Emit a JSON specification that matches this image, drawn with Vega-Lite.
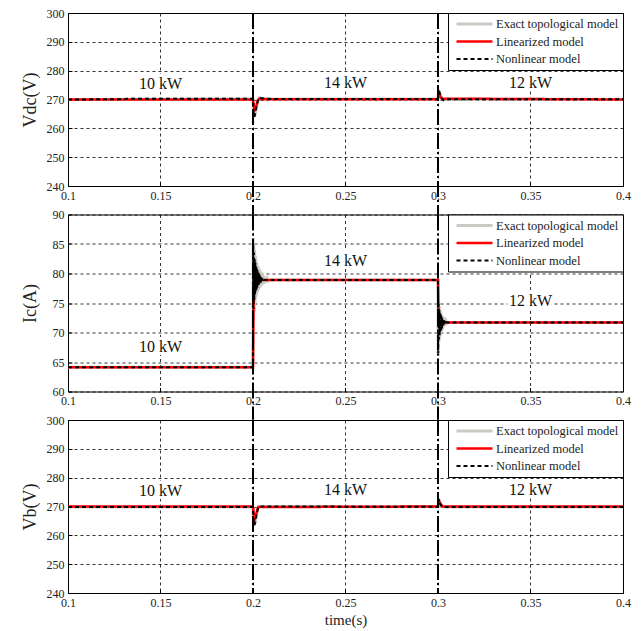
{
  "$schema": "https://vega.github.io/schema/vega-lite/v6.json",
  "autosize": {"type": "pad"},
  "padding": {"left": 20, "top": 6, "right": 12, "bottom": 5},
  "background": "white",
  "config": {
    "font": "Liberation Serif",
    "view": {"stroke": "black", "strokeWidth": 1},
    "axis": {"domain": false, "grid": true, "gridColor": "black", "gridDash": [3, 3], "gridWidth": 0.8, "gridOpacity": 1, "ticks": true, "tickSize": -4, "tickColor": "black", "tickWidth": 1, "tickCount": 20, "labelFont": "Liberation Serif", "labelFontSize": 12, "labelColor": "#222", "labelFlush": false, "labelOverlap": false, "labelPadding": 8, "titleFont": "Liberation Serif", "titleFontWeight": "normal", "titleColor": "#222"},
    "legend": {"orient": "top-right", "offset": 0, "strokeColor": "black", "fillColor": "white", "padding": 4, "symbolType": "stroke", "symbolSize": 1296, "clipHeight": 14, "rowPadding": 3.5, "labelFont": "Liberation Serif", "labelFontSize": 12.5, "labelColor": "#222", "symbolOffset": 3, "labelOffset": 2, "labelLimit": 0}
  },
  "datasets": {
    "vdc": [
      {"t": 0.1, "v": 270, "s": "Exact topological model"}, {"t": 0.2, "v": 270.2, "s": "Exact topological model"}, {"t": 0.2001, "v": 268, "s": "Exact topological model"}, {"t": 0.2004, "v": 265, "s": "Exact topological model"}, {"t": 0.2008, "v": 264, "s": "Exact topological model"}, {"t": 0.2013, "v": 265.3, "s": "Exact topological model"}, {"t": 0.202, "v": 268, "s": "Exact topological model"}, {"t": 0.2028, "v": 270, "s": "Exact topological model"}, {"t": 0.2035, "v": 270.6, "s": "Exact topological model"}, {"t": 0.205, "v": 270.4, "s": "Exact topological model"}, {"t": 0.21, "v": 270.2, "s": "Exact topological model"}, {"t": 0.3, "v": 270.2, "s": "Exact topological model"}, {"t": 0.3001, "v": 272, "s": "Exact topological model"}, {"t": 0.3003, "v": 273.5, "s": "Exact topological model"}, {"t": 0.3008, "v": 272.5, "s": "Exact topological model"}, {"t": 0.3015, "v": 271, "s": "Exact topological model"}, {"t": 0.3025, "v": 270, "s": "Exact topological model"}, {"t": 0.303, "v": 269.8, "s": "Exact topological model"}, {"t": 0.305, "v": 270.1, "s": "Exact topological model"}, {"t": 0.4, "v": 270.1, "s": "Exact topological model"},
      {"t": 0.1, "v": 270, "s": "Linearized model"}, {"t": 0.2, "v": 270, "s": "Linearized model"}, {"t": 0.2005, "v": 267.5, "s": "Linearized model"}, {"t": 0.201, "v": 266, "s": "Linearized model"}, {"t": 0.2017, "v": 267.5, "s": "Linearized model"}, {"t": 0.2025, "v": 269.5, "s": "Linearized model"}, {"t": 0.2035, "v": 270.3, "s": "Linearized model"}, {"t": 0.205, "v": 270.1, "s": "Linearized model"}, {"t": 0.3, "v": 270.1, "s": "Linearized model"}, {"t": 0.3004, "v": 272.5, "s": "Linearized model"}, {"t": 0.301, "v": 271.5, "s": "Linearized model"}, {"t": 0.302, "v": 270.3, "s": "Linearized model"}, {"t": 0.4, "v": 270, "s": "Linearized model"},
      {"t": 0.1, "v": 270, "s": "Nonlinear model"}, {"t": 0.13, "v": 270.1, "s": "Nonlinear model"}, {"t": 0.132, "v": 270.3, "s": "Nonlinear model"}, {"t": 0.2, "v": 270.3, "s": "Nonlinear model"}, {"t": 0.2001, "v": 268, "s": "Nonlinear model"}, {"t": 0.2004, "v": 265, "s": "Nonlinear model"}, {"t": 0.2008, "v": 264, "s": "Nonlinear model"}, {"t": 0.2013, "v": 265.5, "s": "Nonlinear model"}, {"t": 0.202, "v": 268, "s": "Nonlinear model"}, {"t": 0.2028, "v": 270, "s": "Nonlinear model"}, {"t": 0.2035, "v": 270.6, "s": "Nonlinear model"}, {"t": 0.205, "v": 270.4, "s": "Nonlinear model"}, {"t": 0.21, "v": 270.2, "s": "Nonlinear model"}, {"t": 0.3, "v": 270.2, "s": "Nonlinear model"}, {"t": 0.3001, "v": 272, "s": "Nonlinear model"}, {"t": 0.3003, "v": 273.5, "s": "Nonlinear model"}, {"t": 0.3008, "v": 272.5, "s": "Nonlinear model"}, {"t": 0.3015, "v": 271, "s": "Nonlinear model"}, {"t": 0.3025, "v": 270, "s": "Nonlinear model"}, {"t": 0.303, "v": 269.8, "s": "Nonlinear model"}, {"t": 0.305, "v": 270.1, "s": "Nonlinear model"}, {"t": 0.4, "v": 270.1, "s": "Nonlinear model"}
    ],
    "ic": [
      {"t": 0.1, "v": 64.1, "s": "Exact topological model"}, {"t": 0.19999, "v": 64.1, "s": "Exact topological model"}, {"t": 0.2, "v": 64.5, "s": "Exact topological model"}, {"t": 0.2001, "v": 86, "s": "Exact topological model"}, {"t": 0.2003, "v": 72, "s": "Exact topological model"}, {"t": 0.2005, "v": 85, "s": "Exact topological model"}, {"t": 0.2007, "v": 73.5, "s": "Exact topological model"}, {"t": 0.2009, "v": 84, "s": "Exact topological model"}, {"t": 0.2011, "v": 75, "s": "Exact topological model"}, {"t": 0.2013, "v": 83, "s": "Exact topological model"}, {"t": 0.2015, "v": 75.8, "s": "Exact topological model"}, {"t": 0.2017, "v": 82.3, "s": "Exact topological model"}, {"t": 0.2019, "v": 76.3, "s": "Exact topological model"}, {"t": 0.2021, "v": 81.8, "s": "Exact topological model"}, {"t": 0.2024, "v": 76.8, "s": "Exact topological model"}, {"t": 0.2027, "v": 81.3, "s": "Exact topological model"}, {"t": 0.203, "v": 77.2, "s": "Exact topological model"}, {"t": 0.2033, "v": 80.8, "s": "Exact topological model"}, {"t": 0.2036, "v": 77.5, "s": "Exact topological model"}, {"t": 0.2039, "v": 80.5, "s": "Exact topological model"}, {"t": 0.2042, "v": 77.8, "s": "Exact topological model"}, {"t": 0.2045, "v": 80.2, "s": "Exact topological model"}, {"t": 0.2048, "v": 78, "s": "Exact topological model"}, {"t": 0.2051, "v": 79.9, "s": "Exact topological model"}, {"t": 0.2055, "v": 78.2, "s": "Exact topological model"}, {"t": 0.2059, "v": 79.6, "s": "Exact topological model"}, {"t": 0.2063, "v": 78.4, "s": "Exact topological model"}, {"t": 0.2067, "v": 79.3, "s": "Exact topological model"}, {"t": 0.2072, "v": 78.5, "s": "Exact topological model"}, {"t": 0.2077, "v": 79.1, "s": "Exact topological model"}, {"t": 0.2082, "v": 78.7, "s": "Exact topological model"}, {"t": 0.209, "v": 78.9, "s": "Exact topological model"}, {"t": 0.29999, "v": 78.9, "s": "Exact topological model"}, {"t": 0.3, "v": 78.5, "s": "Exact topological model"}, {"t": 0.3001, "v": 66, "s": "Exact topological model"}, {"t": 0.3003, "v": 75.3, "s": "Exact topological model"}, {"t": 0.3005, "v": 68.3, "s": "Exact topological model"}, {"t": 0.3007, "v": 74.5, "s": "Exact topological model"}, {"t": 0.3009, "v": 69, "s": "Exact topological model"}, {"t": 0.3011, "v": 73.9, "s": "Exact topological model"}, {"t": 0.3013, "v": 69.6, "s": "Exact topological model"}, {"t": 0.3015, "v": 73.4, "s": "Exact topological model"}, {"t": 0.3018, "v": 70, "s": "Exact topological model"}, {"t": 0.3021, "v": 73, "s": "Exact topological model"}, {"t": 0.3024, "v": 70.5, "s": "Exact topological model"}, {"t": 0.3027, "v": 72.6, "s": "Exact topological model"}, {"t": 0.303, "v": 70.9, "s": "Exact topological model"}, {"t": 0.3034, "v": 72.3, "s": "Exact topological model"}, {"t": 0.3038, "v": 71.2, "s": "Exact topological model"}, {"t": 0.3043, "v": 72, "s": "Exact topological model"}, {"t": 0.305, "v": 71.6, "s": "Exact topological model"}, {"t": 0.306, "v": 71.7, "s": "Exact topological model"}, {"t": 0.4, "v": 71.7, "s": "Exact topological model"},
      {"t": 0.1, "v": 64.1, "s": "Linearized model"}, {"t": 0.2, "v": 64.1, "s": "Linearized model"}, {"t": 0.2003, "v": 75, "s": "Linearized model"}, {"t": 0.2007, "v": 79.4, "s": "Linearized model"}, {"t": 0.2012, "v": 79.1, "s": "Linearized model"}, {"t": 0.202, "v": 78.9, "s": "Linearized model"}, {"t": 0.3, "v": 78.9, "s": "Linearized model"}, {"t": 0.3003, "v": 73, "s": "Linearized model"}, {"t": 0.3007, "v": 71.3, "s": "Linearized model"}, {"t": 0.3013, "v": 71.6, "s": "Linearized model"}, {"t": 0.302, "v": 71.7, "s": "Linearized model"}, {"t": 0.4, "v": 71.7, "s": "Linearized model"},
      {"t": 0.1, "v": 64.1, "s": "Nonlinear model"}, {"t": 0.19999, "v": 64.1, "s": "Nonlinear model"}, {"t": 0.2, "v": 70, "s": "Nonlinear model"}, {"t": 0.2001, "v": 85, "s": "Nonlinear model"}, {"t": 0.2003, "v": 74, "s": "Nonlinear model"}, {"t": 0.2005, "v": 83.5, "s": "Nonlinear model"}, {"t": 0.2007, "v": 75.5, "s": "Nonlinear model"}, {"t": 0.2009, "v": 82.5, "s": "Nonlinear model"}, {"t": 0.2011, "v": 76.5, "s": "Nonlinear model"}, {"t": 0.2013, "v": 81.8, "s": "Nonlinear model"}, {"t": 0.2015, "v": 77, "s": "Nonlinear model"}, {"t": 0.2017, "v": 81.2, "s": "Nonlinear model"}, {"t": 0.2019, "v": 77.3, "s": "Nonlinear model"}, {"t": 0.2021, "v": 80.8, "s": "Nonlinear model"}, {"t": 0.2023, "v": 77.6, "s": "Nonlinear model"}, {"t": 0.2025, "v": 80.5, "s": "Nonlinear model"}, {"t": 0.2027, "v": 77.9, "s": "Nonlinear model"}, {"t": 0.2029, "v": 80.2, "s": "Nonlinear model"}, {"t": 0.2031, "v": 78.1, "s": "Nonlinear model"}, {"t": 0.2033, "v": 80, "s": "Nonlinear model"}, {"t": 0.2035, "v": 78.3, "s": "Nonlinear model"}, {"t": 0.2037, "v": 79.7, "s": "Nonlinear model"}, {"t": 0.2039, "v": 78.4, "s": "Nonlinear model"}, {"t": 0.2041, "v": 79.5, "s": "Nonlinear model"}, {"t": 0.2043, "v": 78.5, "s": "Nonlinear model"}, {"t": 0.2045, "v": 79.3, "s": "Nonlinear model"}, {"t": 0.2047, "v": 78.6, "s": "Nonlinear model"}, {"t": 0.2049, "v": 79.2, "s": "Nonlinear model"}, {"t": 0.2052, "v": 78.7, "s": "Nonlinear model"}, {"t": 0.2056, "v": 79, "s": "Nonlinear model"}, {"t": 0.206, "v": 78.9, "s": "Nonlinear model"}, {"t": 0.29999, "v": 78.9, "s": "Nonlinear model"}, {"t": 0.3, "v": 76, "s": "Nonlinear model"}, {"t": 0.3001, "v": 66.5, "s": "Nonlinear model"}, {"t": 0.3003, "v": 74.8, "s": "Nonlinear model"}, {"t": 0.3005, "v": 68.8, "s": "Nonlinear model"}, {"t": 0.3007, "v": 74, "s": "Nonlinear model"}, {"t": 0.3009, "v": 69.5, "s": "Nonlinear model"}, {"t": 0.3011, "v": 73.4, "s": "Nonlinear model"}, {"t": 0.3013, "v": 70, "s": "Nonlinear model"}, {"t": 0.3015, "v": 73, "s": "Nonlinear model"}, {"t": 0.3017, "v": 70.4, "s": "Nonlinear model"}, {"t": 0.3019, "v": 72.7, "s": "Nonlinear model"}, {"t": 0.3021, "v": 70.7, "s": "Nonlinear model"}, {"t": 0.3023, "v": 72.4, "s": "Nonlinear model"}, {"t": 0.3025, "v": 71, "s": "Nonlinear model"}, {"t": 0.3027, "v": 72.2, "s": "Nonlinear model"}, {"t": 0.3029, "v": 71.2, "s": "Nonlinear model"}, {"t": 0.3031, "v": 72.1, "s": "Nonlinear model"}, {"t": 0.3033, "v": 71.35, "s": "Nonlinear model"}, {"t": 0.3036, "v": 71.95, "s": "Nonlinear model"}, {"t": 0.304, "v": 71.5, "s": "Nonlinear model"}, {"t": 0.3045, "v": 71.75, "s": "Nonlinear model"}, {"t": 0.305, "v": 71.7, "s": "Nonlinear model"}, {"t": 0.4, "v": 71.7, "s": "Nonlinear model"}
    ],
    "vb": [
      {"t": 0.1, "v": 269.8, "s": "Exact topological model"}, {"t": 0.2, "v": 269.8, "s": "Exact topological model"}, {"t": 0.2002, "v": 266, "s": "Exact topological model"}, {"t": 0.2007, "v": 263.5, "s": "Exact topological model"}, {"t": 0.2012, "v": 264.5, "s": "Exact topological model"}, {"t": 0.202, "v": 267.5, "s": "Exact topological model"}, {"t": 0.2028, "v": 269.7, "s": "Exact topological model"}, {"t": 0.2035, "v": 270, "s": "Exact topological model"}, {"t": 0.3, "v": 269.9, "s": "Exact topological model"}, {"t": 0.3002, "v": 271.5, "s": "Exact topological model"}, {"t": 0.3005, "v": 272.5, "s": "Exact topological model"}, {"t": 0.3012, "v": 271, "s": "Exact topological model"}, {"t": 0.302, "v": 270, "s": "Exact topological model"}, {"t": 0.303, "v": 269.8, "s": "Exact topological model"}, {"t": 0.4, "v": 269.8, "s": "Exact topological model"},
      {"t": 0.1, "v": 270, "s": "Linearized model"}, {"t": 0.2, "v": 270, "s": "Linearized model"}, {"t": 0.2005, "v": 267, "s": "Linearized model"}, {"t": 0.201, "v": 265.8, "s": "Linearized model"}, {"t": 0.2018, "v": 267.5, "s": "Linearized model"}, {"t": 0.2028, "v": 269.8, "s": "Linearized model"}, {"t": 0.3, "v": 270, "s": "Linearized model"}, {"t": 0.3005, "v": 272, "s": "Linearized model"}, {"t": 0.3015, "v": 270.8, "s": "Linearized model"}, {"t": 0.3025, "v": 270, "s": "Linearized model"}, {"t": 0.4, "v": 270, "s": "Linearized model"},
      {"t": 0.1, "v": 269.8, "s": "Nonlinear model"}, {"t": 0.2, "v": 269.8, "s": "Nonlinear model"}, {"t": 0.2002, "v": 266, "s": "Nonlinear model"}, {"t": 0.2007, "v": 263.5, "s": "Nonlinear model"}, {"t": 0.2012, "v": 264.5, "s": "Nonlinear model"}, {"t": 0.202, "v": 267.5, "s": "Nonlinear model"}, {"t": 0.2028, "v": 269.7, "s": "Nonlinear model"}, {"t": 0.2035, "v": 270, "s": "Nonlinear model"}, {"t": 0.3, "v": 269.9, "s": "Nonlinear model"}, {"t": 0.3002, "v": 271.5, "s": "Nonlinear model"}, {"t": 0.3005, "v": 272.5, "s": "Nonlinear model"}, {"t": 0.3012, "v": 271, "s": "Nonlinear model"}, {"t": 0.302, "v": 270, "s": "Nonlinear model"}, {"t": 0.303, "v": 269.8, "s": "Nonlinear model"}, {"t": 0.4, "v": 269.8, "s": "Nonlinear model"}
    ],
    "steps": [{"t": 0.2}, {"t": 0.3}],
    "lab_v": [{"t": 0.15, "v": 275.5, "label": "10 kW"}, {"t": 0.25, "v": 275.6, "label": "14 kW"}, {"t": 0.35, "v": 275.6, "label": "12 kW"}],
    "lab_i": [{"t": 0.15, "v": 67.5, "label": "10 kW"}, {"t": 0.25, "v": 82.2, "label": "14 kW"}, {"t": 0.35, "v": 75.3, "label": "12 kW"}]
  },
  "spacing": 28.5,
  "bounds": "flush",
  "resolve": {
    "scale": {"y": "independent", "color": "independent", "strokeDash": "independent", "strokeWidth": "independent"},
    "legend": {"color": "independent", "strokeDash": "independent", "strokeWidth": "independent"}
  },
  "vconcat": [
    {
      "width": 555, "height": 173,
      "layer": [
        {
          "data": {"name": "vdc"},
          "mark": {"type": "line", "clip": true},
          "encoding": {
            "x": {"field": "t", "type": "quantitative", "scale": {"domain": [0.1, 0.4], "nice": false}, "axis": {"values": [0.1, 0.15, 0.2, 0.25, 0.3, 0.35, 0.4], "format": "~g", "title": null}},
            "y": {"field": "v", "type": "quantitative", "scale": {"domain": [240, 300], "nice": false, "zero": false}, "axis": {"values": [240, 250, 260, 270, 280, 290, 300], "title": "Vdc(V)", "titleFontSize": 18, "titlePadding": 7}},
            "color": {"field": "s", "type": "nominal", "scale": {"domain": ["Exact topological model", "Linearized model", "Nonlinear model"], "range": ["#cbcbc3", "#ff0000", "#000000"]}, "legend": {"title": null}},
            "strokeDash": {"field": "s", "type": "nominal", "scale": {"domain": ["Exact topological model", "Linearized model", "Nonlinear model"], "range": [[1, 0], [1, 0], [4, 3]]}, "legend": {"title": null}},
            "strokeWidth": {"field": "s", "type": "nominal", "scale": {"domain": ["Exact topological model", "Linearized model", "Nonlinear model"], "range": [3, 2, 1.6]}, "legend": {"title": null}}
          }
        },
        {
          "data": {"name": "steps"},
          "mark": {"type": "rule", "color": "black", "strokeWidth": 2, "strokeDash": [16, 3, 2, 3]},
          "encoding": {"x": {"field": "t", "type": "quantitative"}, "y": {"datum": 300}, "y2": {"datum": 230.1}}
        },
        {
          "data": {"name": "lab_v"},
          "mark": {"type": "text", "fontSize": 16, "font": "Liberation Serif", "color": "white", "stroke": "white", "strokeWidth": 6},
          "encoding": {"x": {"field": "t", "type": "quantitative"}, "y": {"field": "v", "type": "quantitative"}, "text": {"field": "label"}}
        },
        {
          "data": {"name": "lab_v"},
          "mark": {"type": "text", "fontSize": 16, "font": "Liberation Serif", "color": "#111"},
          "encoding": {"x": {"field": "t", "type": "quantitative"}, "y": {"field": "v", "type": "quantitative"}, "text": {"field": "label"}}
        }
      ]
    },
    {
      "width": 555, "height": 177,
      "layer": [
        {
          "data": {"name": "ic"},
          "mark": {"type": "line", "clip": true},
          "encoding": {
            "x": {"field": "t", "type": "quantitative", "scale": {"domain": [0.1, 0.4], "nice": false}, "axis": {"values": [0.1, 0.15, 0.2, 0.25, 0.3, 0.35, 0.4], "format": "~g", "title": null}},
            "y": {"field": "v", "type": "quantitative", "scale": {"domain": [60, 90], "nice": false, "zero": false}, "axis": {"values": [60, 65, 70, 75, 80, 85, 90], "title": "Ic(A)", "titleFontSize": 18, "titlePadding": 13}},
            "color": {"field": "s", "type": "nominal", "scale": {"domain": ["Exact topological model", "Linearized model", "Nonlinear model"], "range": ["#cbcbc3", "#ff0000", "#000000"]}, "legend": {"title": null}},
            "strokeDash": {"field": "s", "type": "nominal", "scale": {"domain": ["Exact topological model", "Linearized model", "Nonlinear model"], "range": [[1, 0], [1, 0], [4, 3]]}, "legend": {"title": null}},
            "strokeWidth": {"field": "s", "type": "nominal", "scale": {"domain": ["Exact topological model", "Linearized model", "Nonlinear model"], "range": [3, 2, 1.6]}, "legend": {"title": null}}
          }
        },
        {
          "data": {"name": "steps"},
          "mark": {"type": "rule", "color": "black", "strokeWidth": 2, "strokeDash": [16, 3, 2, 3]},
          "encoding": {"x": {"field": "t", "type": "quantitative"}, "y": {"datum": 90}, "y2": {"datum": 55.2}}
        },
        {
          "data": {"name": "lab_i"},
          "mark": {"type": "text", "fontSize": 16, "font": "Liberation Serif", "color": "white", "stroke": "white", "strokeWidth": 6},
          "encoding": {"x": {"field": "t", "type": "quantitative"}, "y": {"field": "v", "type": "quantitative"}, "text": {"field": "label"}}
        },
        {
          "data": {"name": "lab_i"},
          "mark": {"type": "text", "fontSize": 16, "font": "Liberation Serif", "color": "#111"},
          "encoding": {"x": {"field": "t", "type": "quantitative"}, "y": {"field": "v", "type": "quantitative"}, "text": {"field": "label"}}
        }
      ]
    },
    {
      "width": 555, "height": 173,
      "layer": [
        {
          "data": {"name": "vb"},
          "mark": {"type": "line", "clip": true},
          "encoding": {
            "x": {"field": "t", "type": "quantitative", "scale": {"domain": [0.1, 0.4], "nice": false}, "axis": {"values": [0.1, 0.15, 0.2, 0.25, 0.3, 0.35, 0.4], "format": "~g", "title": "time(s)", "titleFontSize": 15, "titlePadding": 4}},
            "y": {"field": "v", "type": "quantitative", "scale": {"domain": [240, 300], "nice": false, "zero": false}, "axis": {"values": [240, 250, 260, 270, 280, 290, 300], "title": "Vb(V)", "titleFontSize": 18, "titlePadding": 7}},
            "color": {"field": "s", "type": "nominal", "scale": {"domain": ["Exact topological model", "Linearized model", "Nonlinear model"], "range": ["#cbcbc3", "#ff0000", "#000000"]}, "legend": {"title": null}},
            "strokeDash": {"field": "s", "type": "nominal", "scale": {"domain": ["Exact topological model", "Linearized model", "Nonlinear model"], "range": [[1, 0], [1, 0], [4, 3]]}, "legend": {"title": null}},
            "strokeWidth": {"field": "s", "type": "nominal", "scale": {"domain": ["Exact topological model", "Linearized model", "Nonlinear model"], "range": [3, 2, 1.6]}, "legend": {"title": null}}
          }
        },
        {
          "data": {"name": "steps"},
          "mark": {"type": "rule", "color": "black", "strokeWidth": 2, "strokeDash": [16, 3, 2, 3]},
          "encoding": {"x": {"field": "t", "type": "quantitative"}, "y": {"datum": 300}, "y2": {"datum": 240}}
        },
        {
          "data": {"name": "lab_v"},
          "mark": {"type": "text", "fontSize": 16, "font": "Liberation Serif", "color": "white", "stroke": "white", "strokeWidth": 6},
          "encoding": {"x": {"field": "t", "type": "quantitative"}, "y": {"field": "v", "type": "quantitative"}, "text": {"field": "label"}}
        },
        {
          "data": {"name": "lab_v"},
          "mark": {"type": "text", "fontSize": 16, "font": "Liberation Serif", "color": "#111"},
          "encoding": {"x": {"field": "t", "type": "quantitative"}, "y": {"field": "v", "type": "quantitative"}, "text": {"field": "label"}}
        }
      ]
    }
  ]
}
